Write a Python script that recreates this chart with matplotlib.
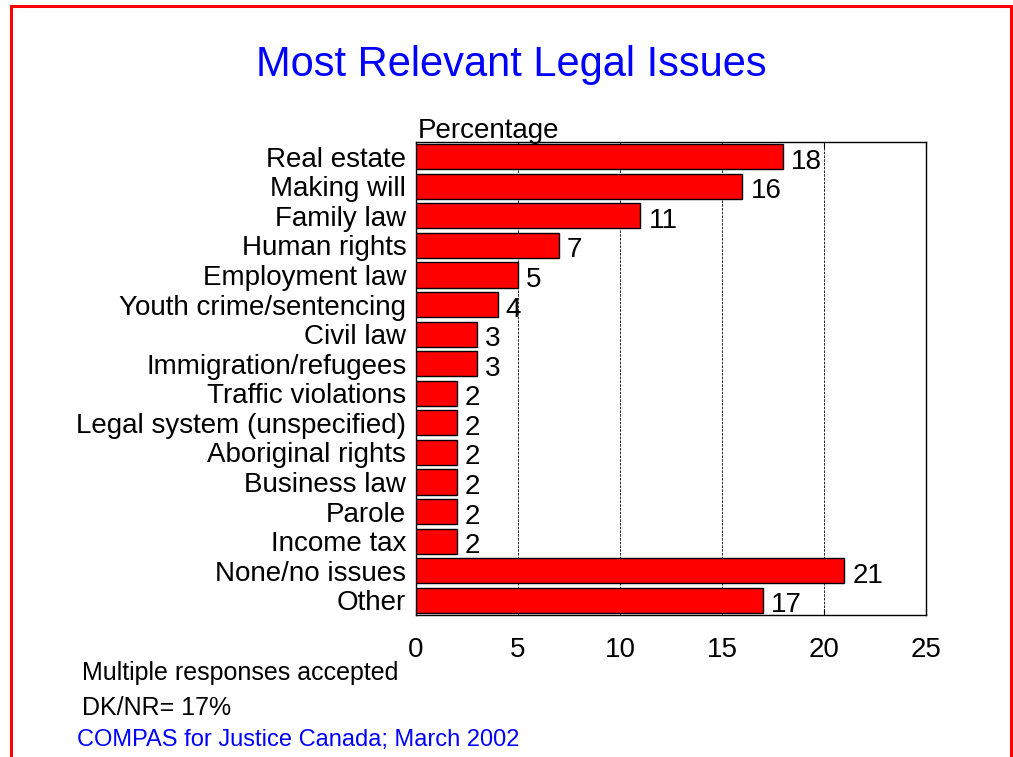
import matplotlib
matplotlib.use("Agg")
import matplotlib.pyplot as plt
import numpy as np
from matplotlib.patches import Rectangle

plt.rcParams["font.family"] = ["Liberation Sans", "DejaVu Sans"]

issues = ["Real estate", "Making will", "Family law", "Human rights",
          "Employment law", "Youth crime/sentencing", "Civil law",
          "Immigration/refugees", "Traffic violations",
          "Legal system (unspecified)", "Aboriginal rights", "Business law",
          "Parole", "Income tax", "None/no issues", "Other"]
pct = [18, 16, 11, 7, 5, 4, 3, 3, 2, 2, 2, 2, 2, 2, 21, 17]
xticks = [0, 5, 10, 15, 20, 25]

W, H = 1013, 757
fig = plt.figure(figsize=(W / 100, H / 100), dpi=100)

# red frame round the slide
fig.patches.append(Rectangle((10.5 / W, -0.05), 1000.5 / W, 1 - 5.5 / H + 0.05,
                             transform=fig.transFigure, fill=False,
                             edgecolor="#ff0000", linewidth=2.2))

left, right, top, bottom = 416, 926, 142, 615
ax = fig.add_axes([left / W, 1 - bottom / H, (right - left) / W, (bottom - top) / H])

y = np.arange(len(issues))
ax.barh(y, pct, height=0.85, color="#ff0000", edgecolor="black", linewidth=1.0, zorder=3)
for yi, v in zip(y, pct):
    ax.text(v + 0.4, yi + 0.17, str(v), va="center", ha="left", fontsize=20, zorder=4)

ax.set_xlim(0, 25)
ax.set_ylim(len(issues) - 0.5, -0.5)
ax.set_yticks(y)
ax.set_yticklabels(issues, fontsize=20)
ax.tick_params(axis="y", length=0, pad=7)
ax.set_xticks(xticks)
ax.tick_params(axis="x", direction="in", top=True, length=4, labelsize=20, pad=16)
ax.xaxis.grid(True, color="black", linestyle=(0, (3, 1.5)), linewidth=0.6, zorder=0)
ax.set_axisbelow(True)
for s in ax.spines.values():
    s.set_linewidth(1.0)

ax.text(0.004, 0.995, "Percentage", transform=ax.transAxes, ha="left", va="bottom",
        fontsize=20)

fig.text(511 / W, 1 - 65 / H, "Most Relevant Legal Issues", ha="center", va="center",
         fontsize=30, color="#0000ff")
fig.text(82 / W, 1 - 673 / H, "Multiple responses accepted", ha="left", va="center",
         fontsize=18)
fig.text(82 / W, 1 - 708 / H, "DK/NR= 17%", ha="left", va="center", fontsize=18)
fig.text(77 / W, 1 - 740 / H, "COMPAS for Justice Canada; March 2002", ha="left",
         va="center", fontsize=17, color="#0000ff")

fig.savefig("out.png", dpi=100)
